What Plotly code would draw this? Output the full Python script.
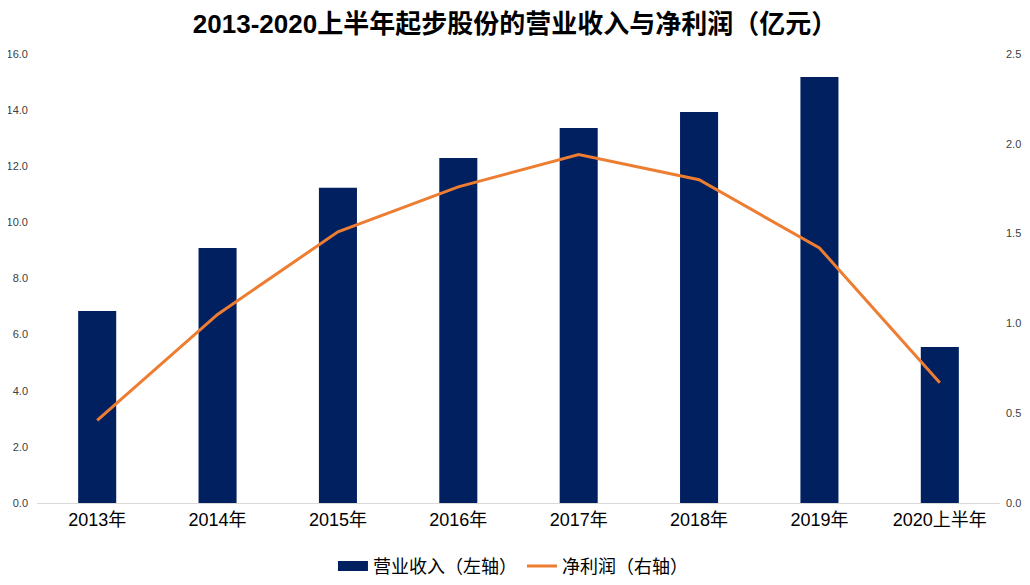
import plotly.graph_objects as go

categories = ["2013年", "2014年", "2015年", "2016年", "2017年", "2018年", "2019年", "2020上半年"]
revenue = [6.84, 9.09, 11.23, 12.29, 13.36, 13.93, 15.18, 5.56]
net_profit = [0.46, 1.05, 1.51, 1.76, 1.94, 1.80, 1.42, 0.67]
left_ticks = [0, 2, 4, 6, 8, 10, 12, 14, 16]
right_ticks = [0, 0.5, 1.0, 1.5, 2.0, 2.5]

font_family = "Liberation Sans, Noto Sans CJK SC, sans-serif"
bar_color = "#002060"
line_color = "#ED7D31"

fig = go.Figure()
fig.add_trace(go.Bar(
    x=categories, y=revenue, name="营业收入（左轴）",
    marker=dict(color=bar_color, line=dict(width=0)),
    width=0.316, yaxis="y", showlegend=False,
))
# legend swatch for the bars (wide rectangle like the reference)
fig.add_trace(go.Scatter(
    x=[None], y=[None], name="营业收入（左轴）", mode="lines",
    line=dict(color=bar_color, width=12), showlegend=True,
))
fig.add_trace(go.Scatter(
    x=categories, y=net_profit, name="净利润（右轴）",
    mode="lines", line=dict(color=line_color, width=3),
    yaxis="y2",
))

fig.update_layout(
    width=1014, height=569,
    margin=dict(l=29, r=22, t=46, b=74, autoexpand=False),
    paper_bgcolor="white", plot_bgcolor="white",
    font=dict(family=font_family, color="#404040"),
    title=dict(
        text="<b>2013-2020上半年起步股份的营业收入与净利润（亿元）</b>",
        x=0.5, xanchor="center", y=0.972, yanchor="middle", yref="container",
        font=dict(family="Liberation Sans, Noto Sans CJK SC, sans-serif", size=26, color="#000000"),
    ),
    xaxis=dict(
        type="category", showgrid=False, showline=True, linecolor="#d9d9d9", linewidth=1,
        ticks="", tickfont=dict(size=18, color="#000000", family=font_family),
        automargin=False,
    ),
    yaxis=dict(
        range=[0, 16], tickvals=left_ticks, ticktext=[f"{v:.1f}" for v in left_ticks],
        showgrid=False, zeroline=False, showline=False, automargin=False,
        tickfont=dict(size=11, color="#404040"), ticklabelstandoff=8,
    ),
    yaxis2=dict(
        range=[0, 2.5], tickvals=right_ticks, ticktext=[f"{v:.1f}" for v in right_ticks],
        overlaying="y", side="right", showgrid=False, zeroline=False, showline=False,
        automargin=False, tickfont=dict(size=11, color="#404040"), ticklabelstandoff=5,
    ),
    legend=dict(
        orientation="h", x=0.498, xanchor="center", xref="container",
        y=0.019, yanchor="middle", yref="container",
        font=dict(size=18, color="#000000"),
        itemwidth=30,
    ),
    bargap=0.5,
    showlegend=True,
)

fig.write_html("out.html")
